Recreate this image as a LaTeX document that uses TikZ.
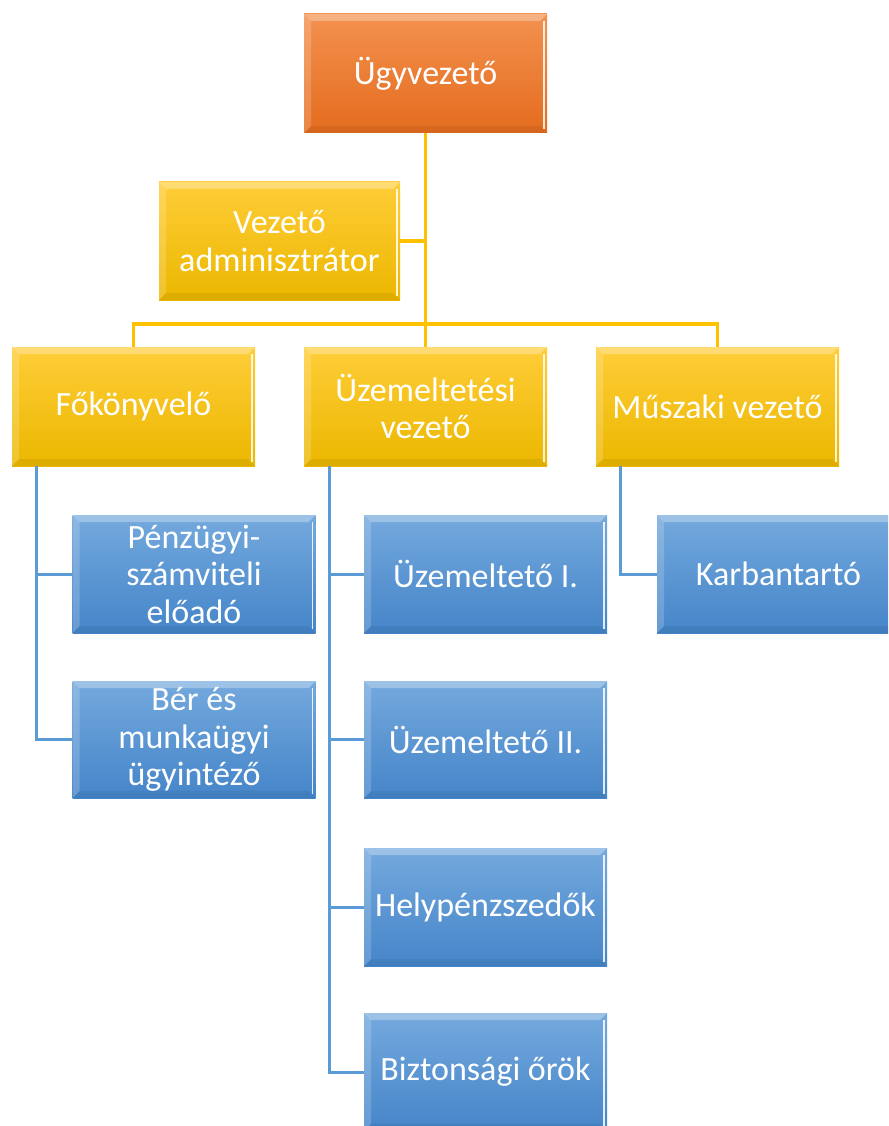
\documentclass[tikz,border=0pt]{standalone}
\usepackage{fontspec}
\setmainfont{Carlito}
\definecolor{orT}{HTML}{F3914F}
\definecolor{orB}{HTML}{E46C1E}
\definecolor{yeT}{HTML}{FFCD38}
\definecolor{yeB}{HTML}{EBB700}
\definecolor{blT}{HTML}{74A9DD}
\definecolor{blB}{HTML}{4585C9}
\definecolor{yeL}{HTML}{FFC000}
\definecolor{blL}{HTML}{5B9BD5}
\tikzset{
  bevel/.style={path picture={
    \fill[white,opacity=0.30] (path picture bounding box.north west) -- (path picture bounding box.north east)
      -- ([xshift=-7pt,yshift=-7pt]path picture bounding box.north east) -- ([xshift=7pt,yshift=-7pt]path picture bounding box.north west) -- cycle;
    \fill[white,opacity=0.18] (path picture bounding box.north west) -- ([xshift=7pt,yshift=-7pt]path picture bounding box.north west)
      -- ([xshift=7pt,yshift=7pt]path picture bounding box.south west) -- (path picture bounding box.south west) -- cycle;
    \fill[black,opacity=0.06] (path picture bounding box.south west) -- (path picture bounding box.south east)
      -- ([xshift=-7pt,yshift=7pt]path picture bounding box.south east) -- ([xshift=7pt,yshift=7pt]path picture bounding box.south west) -- cycle;
    \draw[white,line width=1.4pt,opacity=0.85] ([xshift=-3pt,yshift=-7pt]path picture bounding box.north east) -- ([xshift=-3pt,yshift=4pt]path picture bounding box.south east);
  }},
  box/.style={rectangle, minimum width=243pt, minimum height=119pt, inner sep=0pt,
    align=center, text=white, font=\fontsize{34}{37.5}\selectfont, bevel},
  orbox/.style={box, top color=orT, bottom color=orB},
  yebox/.style={box, top color=yeT, bottom color=yeB},
  blbox/.style={box, top color=blT, bottom color=blB},
  yline/.style={draw=yeL, line width=3.8pt},
  bline/.style={draw=blL, line width=3pt},
}
\begin{document}
\begin{tikzpicture}[x=1pt,y=-1pt]
\useasboundingbox (0,0) rectangle (888,1126);
\clip (0,0) rectangle (888,1126);
% nodes
\node[orbox] (ugy) at (425.5,73.5) {Ügyvezető};
\node[yebox, minimum width=241pt, minimum height=118pt] (adm) at (279.5,241) {Vezető\\adminisztrátor};
\node[yebox] (fok) at (133.5,406.5) {Főkönyvelő};
\node[yebox] (uzv) at (425.5,406.5) {Üzemeltetési\\vezető};
\node[yebox] (mus) at (717.5,406.5) {Műszaki vezető};
\node[blbox, minimum height=118pt] (pen) at (194,574) {Pénzügyi-\\számviteli\\előadó};
\node[blbox, minimum height=117pt] (ber) at (194,739.5) {Bér és\\munkaügyi\\ügyintéző};
\node[blbox, minimum height=118pt] (u1) at (485.5,574) {Üzemeltető I.};
\node[blbox, minimum height=117pt] (u2) at (485.5,739.5) {Üzemeltető II.};
\node[blbox, minimum height=118pt] (hely) at (485.5,907) {Helypénzszedők};
\node[blbox, minimum height=118pt] (bizt) at (485.5,1072) {Biztonsági őrök};
\node[blbox, minimum height=118pt] (karb) at (778.5,574) {Karbantartó};
% coordinates
\coordinate (bar) at (426,324);
% yellow connectors
\draw[yline] (ugy.south) -- (uzv.north);
\draw[yline] (adm.east) -- (adm.east -| ugy.south);
\draw[yline] (fok.north) |- (bar) -| (mus.north);
% blue connectors
\draw[bline] ([xshift=25pt]fok.south west) |- (pen.west);
\draw[bline] ([xshift=25pt]fok.south west) |- (ber.west);
\draw[bline] ([xshift=26pt]uzv.south west) |- (u1.west);
\draw[bline] ([xshift=26pt]uzv.south west) |- (u2.west);
\draw[bline] ([xshift=26pt]uzv.south west) |- (hely.west);
\draw[bline] ([xshift=26pt]uzv.south west) |- (bizt.west);
\draw[bline] ([xshift=25pt]mus.south west) |- (karb.west);
\end{tikzpicture}
\end{document}
